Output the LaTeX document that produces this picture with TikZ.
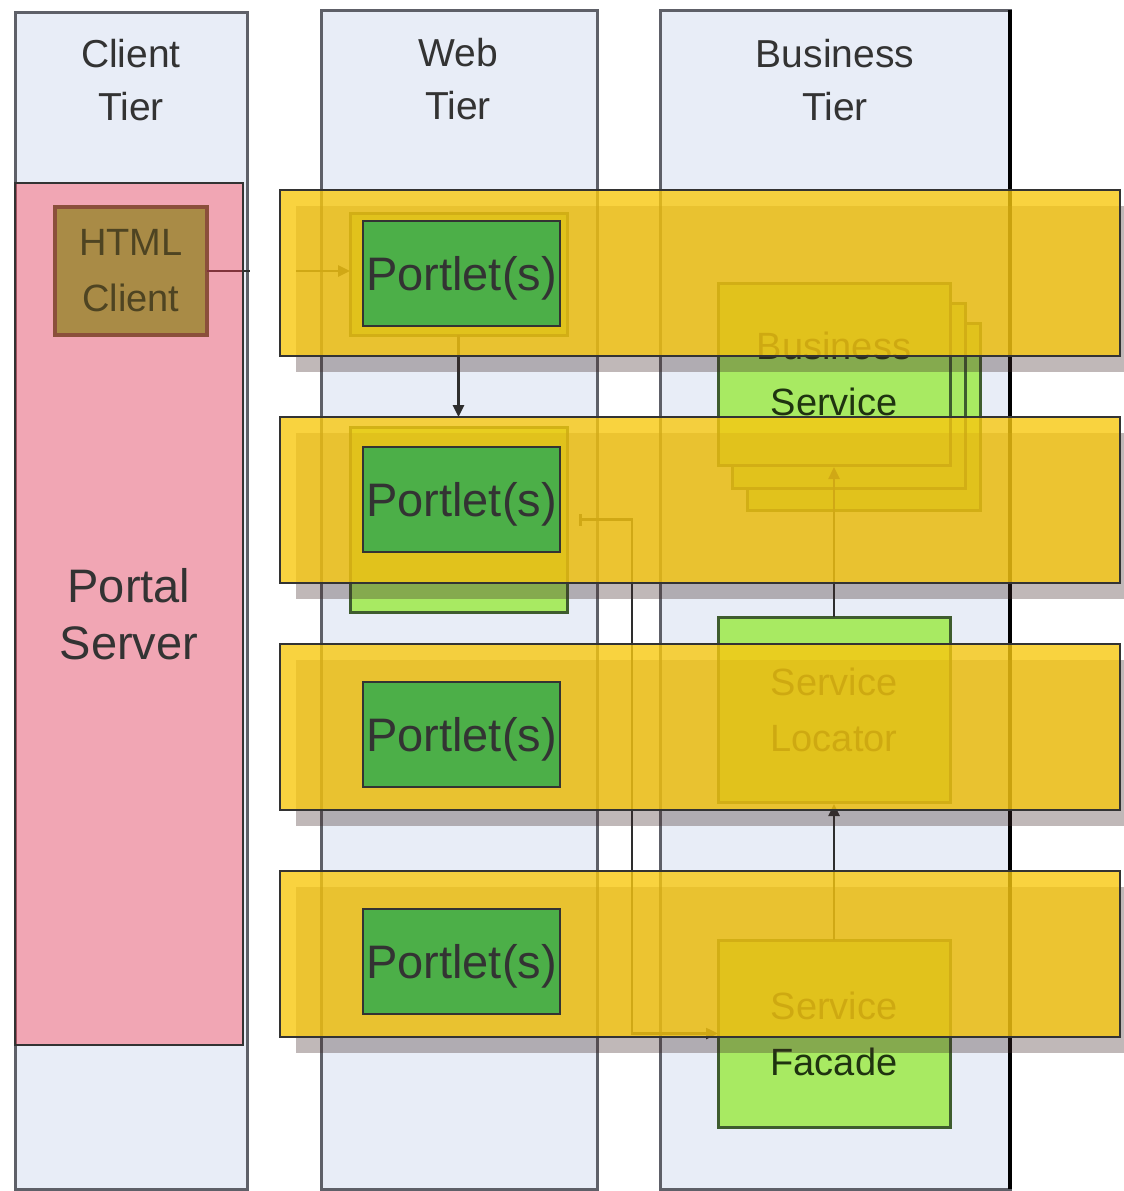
\documentclass[tikz,border=0pt]{standalone}
\usepackage{fontspec}
\setmainfont{Liberation Sans}
\usetikzlibrary{arrows.meta}
\definecolor{colfill}{HTML}{E8EDF7}
\definecolor{colline}{HTML}{5E6068}
\definecolor{lgreen}{HTML}{A8EA62}
\definecolor{dgreen}{HTML}{3E5C2E}
\definecolor{hgreen}{HTML}{70C040}
\definecolor{pgreen}{HTML}{4CAF48}
\definecolor{bandy}{HTML}{F8C810}
\definecolor{txtc}{HTML}{333333}
\definecolor{gtxt}{HTML}{1F3310}
\definecolor{htxt}{HTML}{4E4422}
\definecolor{pinkred}{HTML}{FF3C50}
\definecolor{shadowc}{HTML}{402828}
\newcommand\fHdr{\fontsize{39}{53}\selectfont}
\newcommand\fBiz{\fontsize{38}{56}\selectfont}
\newcommand\fBig{\fontsize{47}{57}\selectfont}
\tikzset{
  base/.style={anchor=north west, inner sep=0pt, outer sep=0pt},
  tiercol/.style={base, draw=colline, line width=3pt, fill=colfill},
  hdr/.style={align=center, font=\fHdr, text=txtc, inner sep=0pt},
  bizbox/.style={base, draw=dgreen, line width=3pt, fill=lgreen, text=gtxt, font=\fBiz, align=center},
  htmlbox/.style={base, draw=dgreen, line width=3.5pt, fill=hgreen},
  htmltxt/.style={align=center, font=\fBiz, text=htxt, inner sep=0pt},
  conn/.style={draw=txtc!90!black, line width=2.5pt},
  tip/.style={-{Triangle[length=12pt,width=11pt]}},
  pinkov/.style={base, fill=pinkred, fill opacity=0.4, draw=txtc, line width=2pt, draw opacity=1},
  bigtxt/.style={align=center, font=\fBig, text=txtc, inner sep=0pt},
  band/.style={base, fill=bandy, fill opacity=0.8, draw=txtc, line width=1.5pt, draw opacity=1,
               minimum width=840pt, minimum height=166pt},
  bshadow/.style={fill=shadowc, fill opacity=0.33},
  portlet/.style={base, fill=pgreen, draw=txtc, line width=2pt, text=txtc, font=\fBig,
                  minimum width=197pt, minimum height=105pt, text depth=0pt}
}
\begin{document}
\begin{tikzpicture}[x=1pt,y=-1pt]
\useasboundingbox[fill=white] (0,0) rectangle (1124,1191);
% tier columns
\node[tiercol, minimum width=232pt, minimum height=1177pt] (ct) at (15,12) {};
\node[tiercol, minimum width=276pt, minimum height=1179pt] (wt) at (321,10) {};
\node[tiercol, minimum width=350pt, minimum height=1179pt] (bt) at (660,10) {};
\draw[black, line width=4pt] (bt.north east) -- (bt.south east);
\node[hdr] (cth) at (131,80) {Client\\Tier};
\node[hdr] (wth) at (458,79) {Web\\Tier};
\node[hdr] (bth) at (835,80) {Business\\Tier};
% underlying components
\node[htmlbox, minimum width=152pt, minimum height=128pt] (html) at (55,207) {};
\node[bizbox, minimum width=217pt, minimum height=122pt] (wb1) at (350,213) {};
\node[bizbox, minimum width=217pt, minimum height=185pt] (wb2) at (350,427) {};
\node[bizbox, minimum width=233pt, minimum height=187pt] (bs3) at (747,323) {};
\node[bizbox, minimum width=233pt, minimum height=185pt] (bs2) at (732,303) {};
\node[bizbox, minimum width=232pt, minimum height=182pt] (bs1) at (718,283) {Business\\Service};
\node[bizbox, minimum width=232pt, minimum height=185pt] (loc) at (718,617) {Service\\Locator};
\node[bizbox, minimum width=232pt, minimum height=187pt] (fac) at (718,940) {Service\\Facade};
% connectors
\draw[conn, tip] (html.east) -- (html.east -| wb1.west);
\draw[conn, tip, shorten >=10pt] (wb1.south) -- (wb2.north);
\draw[conn, tip, shorten >=2pt] (loc.north) -- (bs1.south);
\draw[conn, tip, shorten >=2pt] (fac.north) -- (loc.south);
\draw[conn, {Bar[width=12pt]}-{Triangle[length=12pt,width=11pt]}, shorten <=12pt]
  (wb2.east) -- ++(65,0) |- (fac.west);
% white gap between client and web tiers
\fill[white] (249.5,250) rectangle (296,290);
% portal server overlay
\node[pinkov, minimum width=228pt, minimum height=862pt] (ps) at (15,183) {};
\node[bigtxt] (pst) at (ps.center) {Portal\\Server};
\node[htmltxt] (htmlt) at (html.center) {HTML\\Client};
% yellow bands with shadows and portlets
\foreach \y/\py [count=\i] in {190/221, 417/447, 644/682, 871/909} {
  \fill[bshadow] (296,{\y+16}) rectangle (1130,{\y+182});
  \node[band] (band\i) at (280,\y) {};
  \node[portlet] (p\i) at (363,\py) {Portlet(s)};
}
\end{tikzpicture}
\end{document}
